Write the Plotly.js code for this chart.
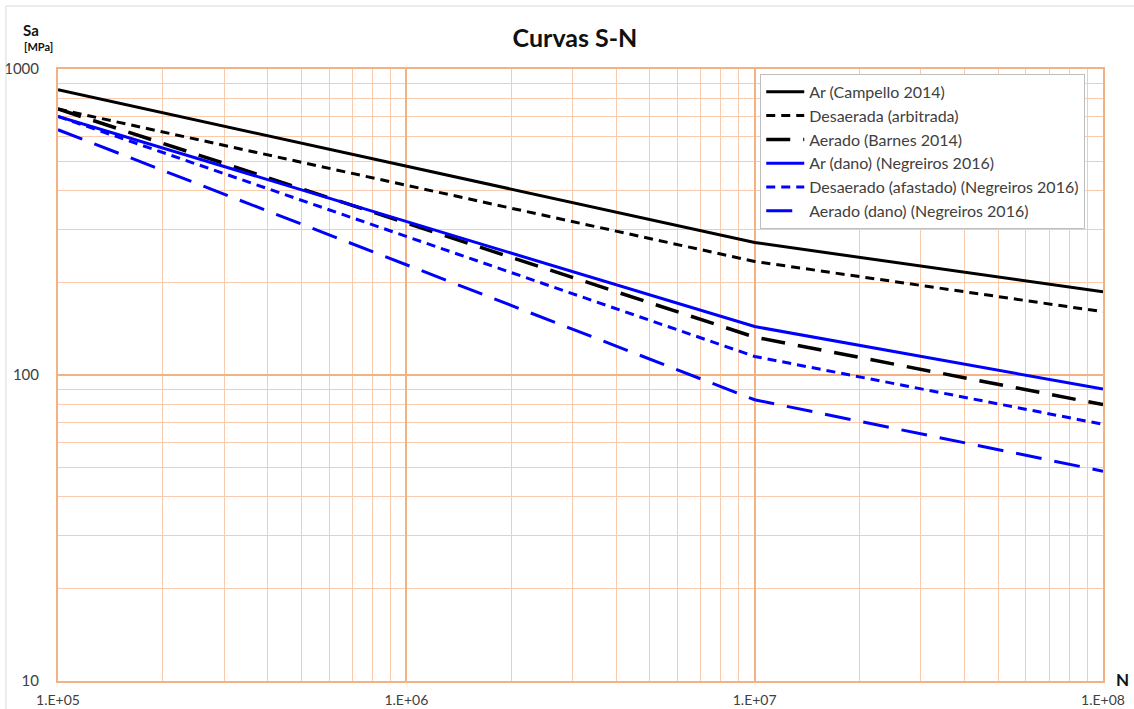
<!DOCTYPE html>
<html>
<head>
<meta charset="utf-8">
<script src="https://cdn.plot.ly/plotly-3.0.1.min.js"></script>
<style>
  html, body { margin: 0; padding: 0; background: #ffffff; }
  #chart { width: 1134px; height: 709px; }
</style>
</head>
<body>
<div id="chart"></div>
<script>
// Number of cycles N (knee of each curve at 1E+07)
const cycles = [1e5, 1e7, 1e8];

// Alternating stress Sa [MPa] for each curve
const arCampello = [855, 271, 187];
const desaeradaArbitrada = [740, 235, 161];
const aeradoBarnes = [740, 133, 80];
const arDanoNegreiros = [700, 144, 90];
const desaeradoAfastadoNegreiros = [700, 115, 69];
const aeradoDanoNegreiros = [633, 83, 48.5];

const seriesNames = [
  'Ar (Campello 2014)',
  'Desaerada (arbitrada)',
  'Aerado (Barnes 2014)',
  'Ar (dano) (Negreiros 2016)',
  'Desaerado (afastado) (Negreiros 2016)',
  'Aerado (dano) (Negreiros 2016)'
];

// Axis tick labels
const xTickVals = [1e5, 1e6, 1e7, 1e8];
const xTickText = ['1.E+05', '1.E+06', '1.E+07', '1.E+08'];
const yTickVals = [10, 100, 1000];
const yTickText = ['10', '100', '1000'];

// Minor grid positions: digits 2..9 inside each decade
const minorDigits = [2, 3, 4, 5, 6, 7, 8, 9];
function minorGrid(decades) {
  const out = [];
  decades.forEach(d => minorDigits.forEach(m => out.push(m * d)));
  return out;
}

const black = '#000000';
const blue = '#0000FF';

function line(y, name, color, dash, width) {
  return {
    x: cycles, y: y, name: name, type: 'scatter', mode: 'lines',
    line: { color: color, width: width, dash: dash },
    hoverinfo: 'x+y+name'
  };
}

const data = [
  line(arCampello, seriesNames[0], black, 'solid', 3),
  line(desaeradaArbitrada, seriesNames[1], black, '9px,6px', 3),
  line(aeradoBarnes, seriesNames[2], black, '24px,13px', 3.5),
  line(arDanoNegreiros, seriesNames[3], blue, 'solid', 3),
  line(desaeradoAfastadoNegreiros, seriesNames[4], blue, '9px,6px', 3),
  line(aeradoDanoNegreiros, seriesNames[5], blue, '26px,13px', 3)
];

const gridMajor = '#F4B183';
const gridMinor = '#F8CBAD';
const textGray = '#404040';
const fontFam = 'Lato, "Open Sans", sans-serif';

const layout = {
  width: 1134,
  height: 709,
  margin: { l: 58, r: 31, t: 69, b: 28 },
  paper_bgcolor: '#ffffff',
  plot_bgcolor: '#ffffff',
  font: { family: fontFam, color: textGray },
  title: {
    text: '<b>Curvas S-N</b>',
    font: { family: fontFam, size: 25, color: '#111111' },
    x: 0.4947, xref: 'paper', xanchor: 'center',
    y: 0.946, yref: 'container', yanchor: 'middle'
  },
  showlegend: true,
  legend: {
    x: 0.672, y: 0.992, xanchor: 'left', yanchor: 'top',
    bgcolor: '#ffffff', bordercolor: '#BFBFBF', borderwidth: 1,
    font: { family: fontFam, size: 16, color: textGray },
    itemwidth: 38,
    tracegroupgap: 0
  },
  xaxis: {
    type: 'log',
    range: [5, 8],
    tickmode: 'array', tickvals: xTickVals, ticktext: xTickText,
    tickfont: { family: fontFam, size: 14, color: textGray },
    ticks: '', showgrid: true, gridcolor: gridMajor, gridwidth: 2,
    minor: { tickmode: 'array', tickvals: minorGrid([1e5, 1e6, 1e7]), showgrid: true, gridcolor: gridMinor, gridwidth: 1, ticks: '' },
    showline: true, linecolor: gridMajor, linewidth: 2, mirror: true,
    zeroline: false, ticklabelstandoff: 5
  },
  yaxis: {
    type: 'log',
    range: [1, 3],
    tickmode: 'array', tickvals: yTickVals, ticktext: yTickText,
    tickfont: { family: fontFam, size: 15, color: textGray },
    ticks: '', showgrid: true, gridcolor: gridMajor, gridwidth: 2,
    minor: { tickmode: 'array', tickvals: minorGrid([10, 100]), showgrid: true, gridcolor: gridMinor, gridwidth: 1, ticks: '' },
    showline: true, linecolor: gridMajor, linewidth: 2, mirror: true,
    zeroline: false, ticklabelstandoff: 14
  },
  annotations: [
    { text: '<b>Sa</b>', xref: 'paper', yref: 'paper', x: -0.0258, y: 1.0637,
      xanchor: 'center', yanchor: 'middle',
      showarrow: false, font: { family: fontFam, size: 15, color: '#111111' } },
    { text: '<b>[MPa]</b>', xref: 'paper', yref: 'paper', x: -0.0191, y: 1.036,
      xanchor: 'center', yanchor: 'middle',
      showarrow: false, font: { family: fontFam, size: 11, color: '#111111' } },
    { text: '<b>N</b>', xref: 'paper', yref: 'paper', x: 1.0182, y: 0.003,
      xanchor: 'center', yanchor: 'middle',
      showarrow: false, font: { family: fontFam, size: 17, color: '#111111' } }
  ],
  shapes: [
    { type: 'line', xref: 'paper', yref: 'paper', x0: -0.0498, x1: -0.0498, y0: -0.05, y1: 1.1029,
      line: { color: '#D9D9D9', width: 1 } },
    { type: 'line', xref: 'paper', yref: 'paper', x0: -0.0498, x1: 1.04, y0: 1.1029, y1: 1.1029,
      line: { color: '#D9D9D9', width: 1 } }
  ]
};

Plotly.newPlot('chart', data, layout, { displayModeBar: false });
</script>
</body>
</html>
